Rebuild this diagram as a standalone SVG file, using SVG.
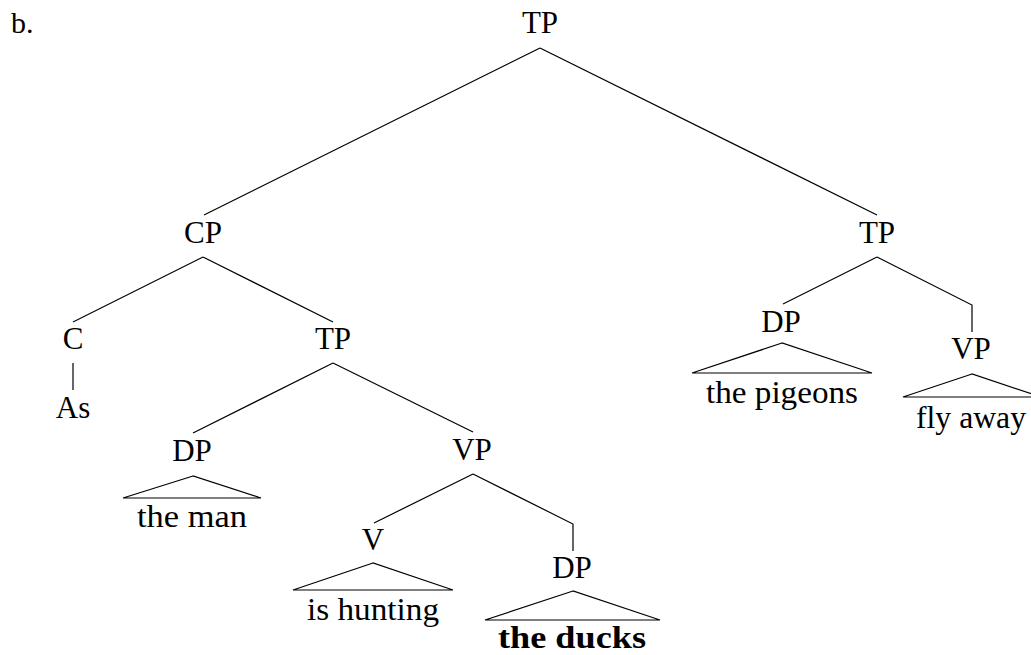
<svg xmlns="http://www.w3.org/2000/svg" width="1031" height="655" viewBox="0 0 1031 655">
<style>
.t{font-family:"Liberation Serif",serif;font-size:31px;fill:#000;text-anchor:middle}
.b{font-weight:bold}
.e{stroke:#000;stroke-width:1.2;fill:none}
</style>
<rect width="1031" height="655" fill="#fff"/>
<text class="t" x="11" y="33" style="text-anchor:start;font-size:30px">b.</text>
<g id="connectors" class="e">
<line x1="540" y1="48" x2="204" y2="215"/>
<line x1="540" y1="48" x2="877" y2="215"/>
<line x1="203" y1="257" x2="73" y2="322"/>
<line x1="203" y1="257" x2="333" y2="322"/>
<line x1="73" y1="363" x2="73" y2="390"/>
<line x1="333" y1="363" x2="193" y2="433"/>
<line x1="333" y1="363" x2="473" y2="432"/>
<line x1="473" y1="474" x2="374" y2="523"/>
<polyline points="473,474 573,524 573,551"/>
<line x1="877" y1="257" x2="783" y2="304"/>
<polyline points="877,257 972,305 972,332"/>
</g>
<g id="n-tp-root"><text class="t" x="540" y="33">TP</text></g>
<g id="n-cp"><text class="t" x="203" y="243">CP</text></g>
<g id="n-c"><text class="t" x="73" y="349">C</text></g>
<g id="n-as"><text class="t" x="73" y="418">As</text></g>
<g id="n-tp-mid"><text class="t" x="333" y="349">TP</text></g>
<g id="n-dp-man"><text class="t" x="192" y="461">DP</text>
<polygon class="e" points="193,476 123,498 261,498"/>
<text class="t" x="192" y="527" textLength="110" lengthAdjust="spacingAndGlyphs">the man</text></g>
<g id="n-vp-mid"><text class="t" x="472" y="460">VP</text></g>
<g id="n-v"><text class="t" x="373" y="550">V</text>
<polygon class="e" points="373,563 293,590 453,590"/>
<text class="t" x="373" y="620" textLength="132" lengthAdjust="spacingAndGlyphs">is hunting</text></g>
<g id="n-dp-ducks"><text class="t" x="572" y="578">DP</text>
<polygon class="e" points="573,591 485,620 660,620"/>
<text class="t b" x="572" y="648" textLength="148" lengthAdjust="spacingAndGlyphs">the ducks</text></g>
<g id="n-tp-right"><text class="t" x="877" y="243">TP</text></g>
<g id="n-dp-pigeons"><text class="t" x="781" y="332">DP</text>
<polygon class="e" points="782,343 692,373 872,373"/>
<text class="t" x="782" y="403" textLength="152" lengthAdjust="spacingAndGlyphs">the pigeons</text></g>
<g id="n-vp-right"><text class="t" x="971" y="359">VP</text>
<polygon class="e" points="972,374 903,397 1041,397"/>
<text class="t" x="971" y="428" textLength="110" lengthAdjust="spacingAndGlyphs">fly away</text></g>
</svg>
